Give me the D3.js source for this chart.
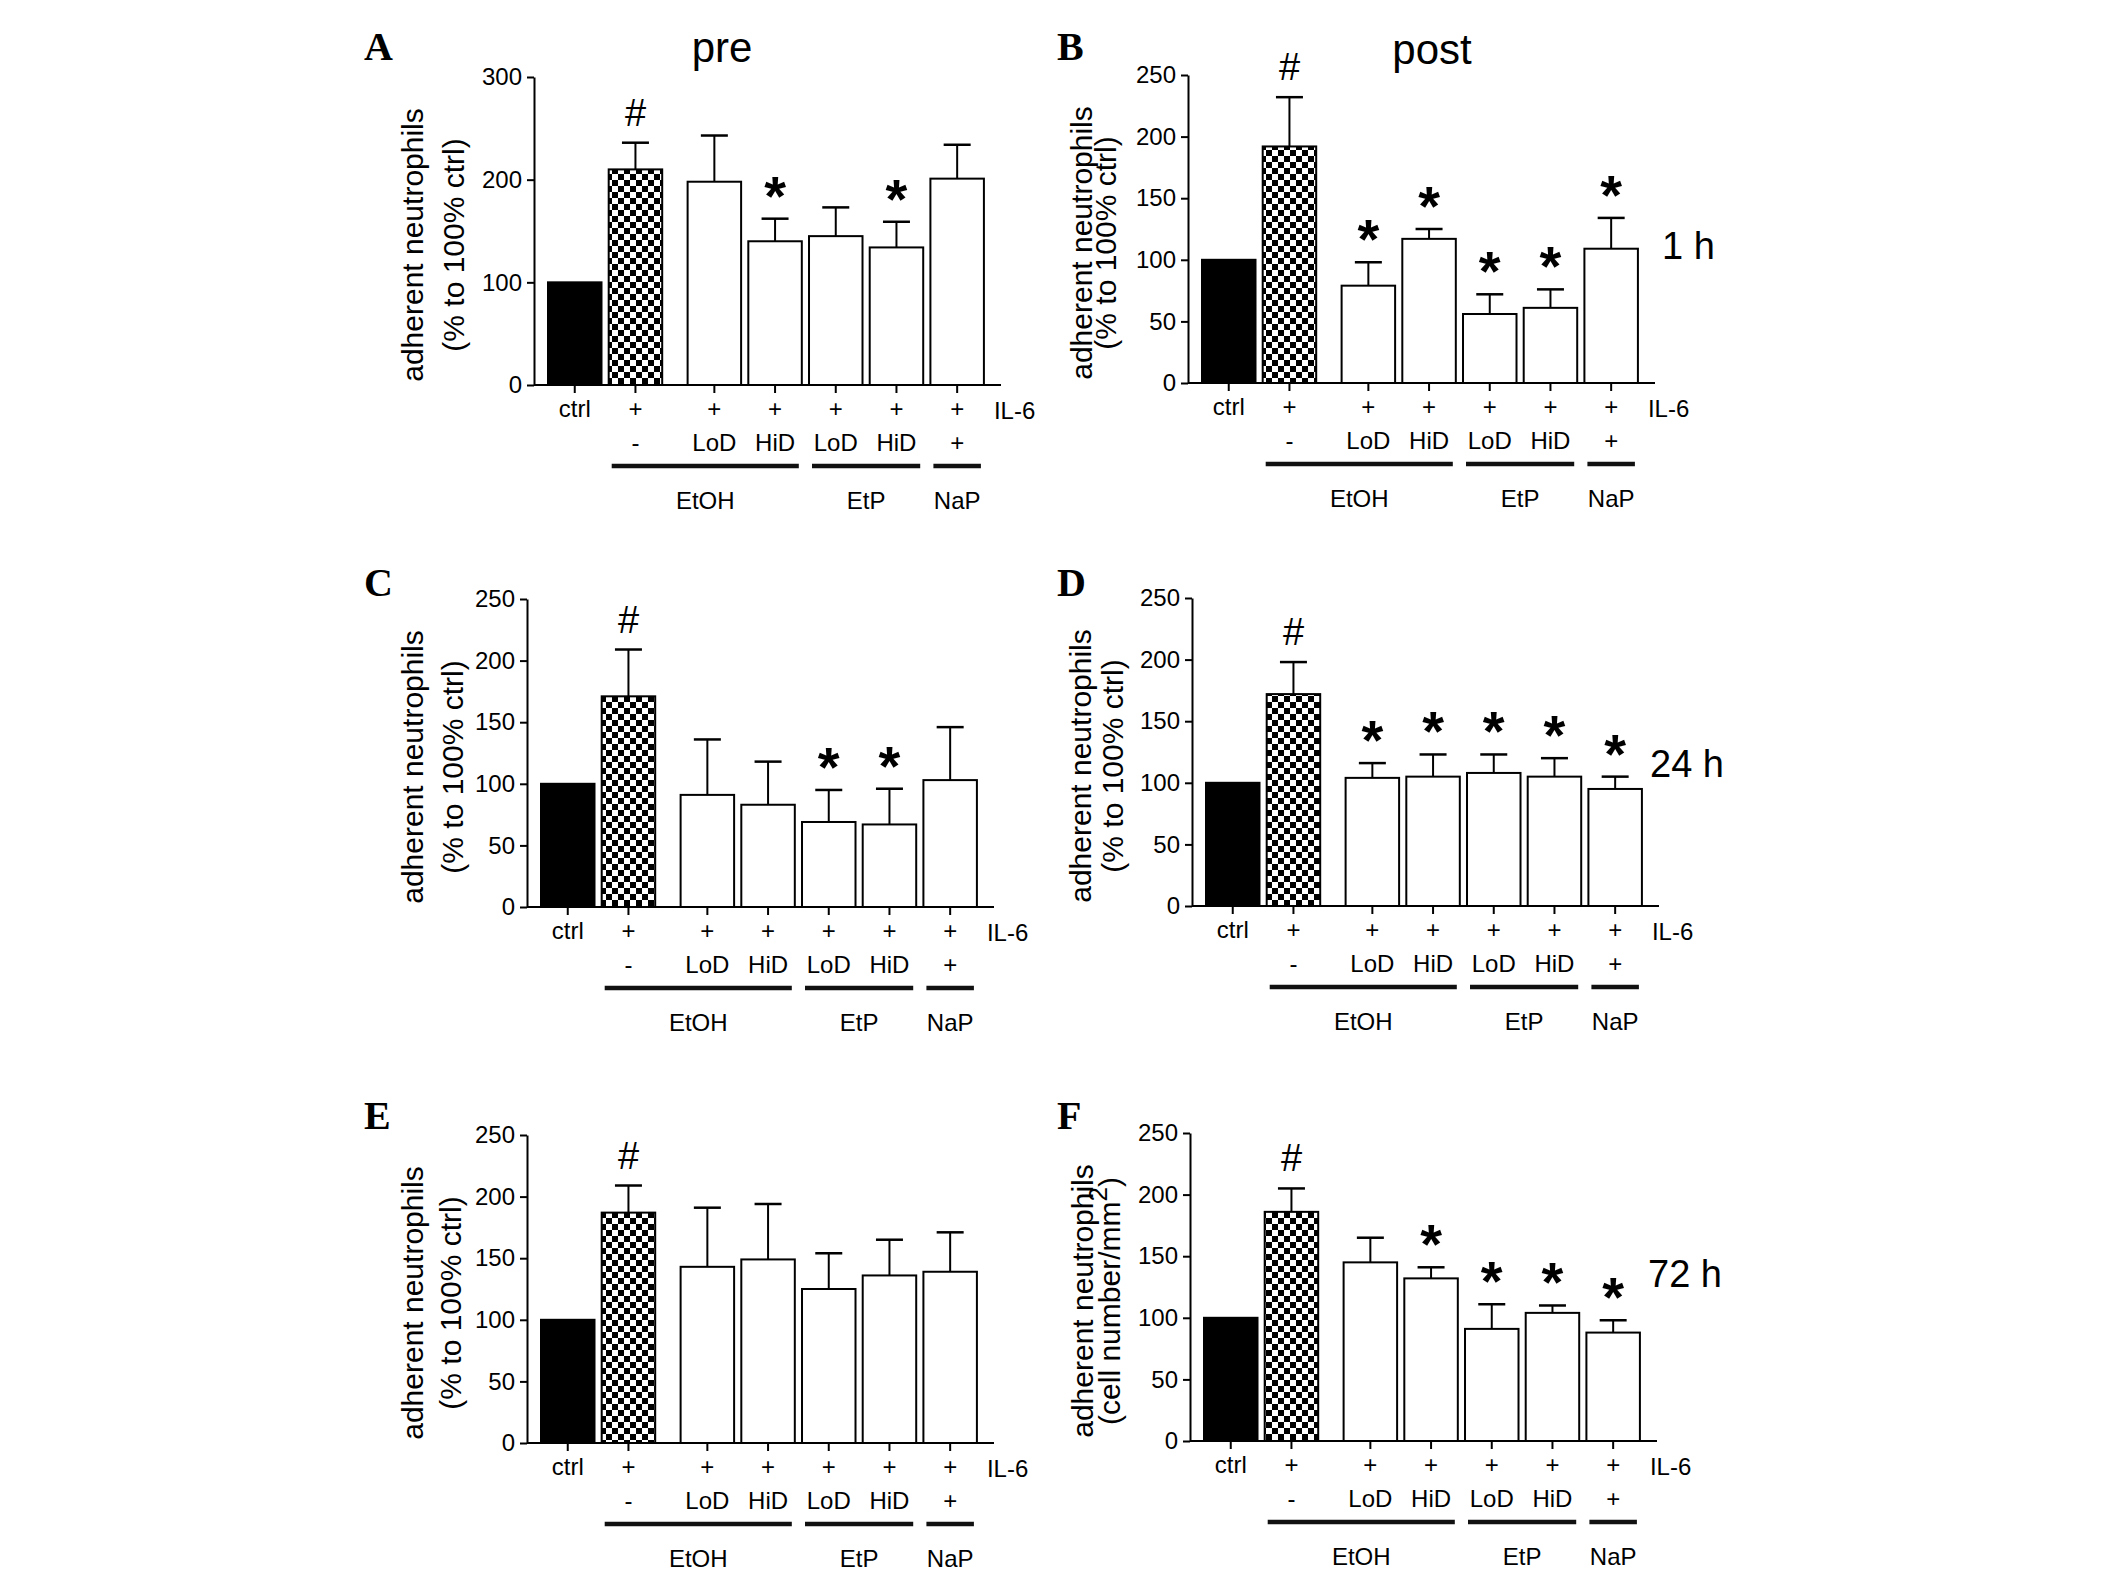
<!DOCTYPE html>
<html>
<head>
<meta charset="utf-8">
<script src="https://cdn.jsdelivr.net/npm/d3@7"></script>
<style>
  body { margin: 0; background: #fff; }
  text { fill: #000; }
</style>
</head>
<body>
<div id="graf"></div>
<script>
////DATA: CATEGORIES (SAME SEVEN BARS IN EVERY PANEL)
il6Row  = ['ctrl', '+', '+', '+', '+', '+', '+']
doseRow = ['', '-', 'LoD', 'HiD', 'LoD', 'HiD', '+']
groups  = [
  { name: 'EtOH', first: 1, last: 3 },
  { name: 'EtP',  first: 4, last: 5 },
  { name: 'NaP',  first: 6, last: 6 }
]

////DATA: MEANS, SEM AND SIGNIFICANCE MARKS PER PANEL
meanA = [100, 210, 198, 140, 145, 134, 201]
semA  = [0, 26, 45, 22, 28, 25, 33]
sigA  = ['', '#', '', '*', '', '*', '']

meanB = [100, 192, 79, 117, 56, 61, 109]
semB  = [0, 40, 19, 8, 16, 15, 25]
sigB  = ['', '#', '*', '*', '*', '*', '*']

meanC = [100, 171, 91, 83, 69, 67, 103]
semC  = [0, 38, 45, 35, 26, 29, 43]
sigC  = ['', '#', '', '', '*', '*', '']

meanD = [100, 172, 104, 105, 108, 105, 95]
semD  = [0, 26, 12, 18, 15, 15, 10]
sigD  = ['', '#', '*', '*', '*', '*', '*']

meanE = [100, 187, 143, 149, 125, 136, 139]
semE  = [0, 22, 48, 45, 29, 29, 32]
sigE  = ['', '#', '', '', '', '', '']

meanF = [100, 186, 145, 132, 91, 104, 88]
semF  = [0, 19, 20, 9, 20, 6, 10]
sigF  = ['', '#', '', '*', '*', '*', '*']

ticks300 = [0, 100, 200, 300]
ticks250 = [0, 50, 100, 150, 200, 250]

labelPct  = ['adherent neutrophils', '(% to 100% ctrl)']
labelCell = ['adherent neutrophils', '(cell number/mm', '2', ')']

panels = [
  { id: 'A', title: 'pre',  time: '',     mean: meanA, sem: semA, sig: sigA, yMax: 300, ticks: ticks300, label: labelPct },
  { id: 'B', title: 'post', time: '1 h',  mean: meanB, sem: semB, sig: sigB, yMax: 250, ticks: ticks250, label: labelPct },
  { id: 'C', title: '',     time: '',     mean: meanC, sem: semC, sig: sigC, yMax: 250, ticks: ticks250, label: labelPct },
  { id: 'D', title: '',     time: '24 h', mean: meanD, sem: semD, sig: sigD, yMax: 250, ticks: ticks250, label: labelPct },
  { id: 'E', title: '',     time: '',     mean: meanE, sem: semE, sig: sigE, yMax: 250, ticks: ticks250, label: labelPct },
  { id: 'F', title: '',     time: '72 h', mean: meanF, sem: semF, sig: sigF, yMax: 250, ticks: ticks250, label: labelCell }
]

////LAYOUT (PIXELS) PER PANEL
layout = {
  A: { x: 534,  y0: 385,  letterX: 364,  letterY: 60,   labelX: [412, 453],   titleX: 722,  titleY: 62 },
  B: { x: 1188, y0: 383,  letterX: 1057, letterY: 60,   labelX: [1081, 1105], titleX: 1432, titleY: 64, timeX: 1662, timeY: 259 },
  C: { x: 527,  y0: 907,  letterX: 364,  letterY: 596,  labelX: [412, 452] },
  D: { x: 1192, y0: 906,  letterX: 1057, letterY: 596,  labelX: [1080, 1112], timeX: 1650, timeY: 777 },
  E: { x: 527,  y0: 1443, letterX: 364,  letterY: 1129, labelX: [412, 450] },
  F: { x: 1190, y0: 1441, letterX: 1057, letterY: 1129, labelX: [1082, 1109], timeX: 1648, timeY: 1287 }
}
alto = 308      // plot height
paso = 60.7     // bar pitch
bw = 53.5       // bar width
gap = 0.3       // extra space after the IL-6 bar
ejeLargo = 467  // x axis length
sans = "'Liberation Sans', Arial, sans-serif"
serif = "'Liberation Serif', 'Times New Roman', serif"

slot = i => i + (i >= 2 ? gap : 0)

////SVG
svg = d3.select('#graf').append('svg')
  .attr('width', 2126)
  .attr('height', 1578)
  .style('display', 'block')
  .style('background', '#fff')
  .style('font-family', sans)

defs = svg.append('defs')
sq = 6
pat = defs.append('pattern')
  .attr('id', 'checker')
  .attr('patternUnits', 'userSpaceOnUse')
  .attr('width', sq * 2)
  .attr('height', sq * 2)
pat.append('rect').attr('width', sq * 2).attr('height', sq * 2).attr('fill', '#fff')
pat.append('rect').attr('width', sq).attr('height', sq).attr('fill', '#000')
pat.append('rect').attr('x', sq).attr('y', sq).attr('width', sq).attr('height', sq).attr('fill', '#000')

function drawPanel(p) {
  L = layout[p.id]
  g = svg.append('g')

  x = d3.scaleLinear()
    .domain([0, 1])
    .range([L.x + 14 + bw / 2, L.x + 14 + bw / 2 + paso])
  y = d3.scaleLinear()
    .domain([0, p.yMax])
    .range([L.y0, L.y0 - alto])

  // y axis
  yAxis = g.append('g')
    .attr('transform', `translate(${L.x},0)`)
    .call(d3.axisLeft(y).tickValues(p.ticks).tickSize(7).tickSizeOuter(0).tickPadding(5))
  yAxis.select('.domain').attr('stroke-width', 2)
  yAxis.selectAll('.tick line').attr('stroke-width', 2)
  yAxis.selectAll('.tick text')
    .attr('font-size', 24)
    .style('font-family', sans)

  // x axis line + ticks
  g.append('line')
    .attr('x1', L.x).attr('x2', L.x + ejeLargo)
    .attr('y1', L.y0).attr('y2', L.y0)
    .attr('stroke', '#000').attr('stroke-width', 2)
  g.selectAll('.xt').data(p.mean).join('line')
    .attr('x1', (d, i) => x(slot(i))).attr('x2', (d, i) => x(slot(i)))
    .attr('y1', L.y0).attr('y2', L.y0 + 8)
    .attr('stroke', '#000').attr('stroke-width', 2)

  // bars
  g.selectAll('.bar').data(p.mean).join('rect')
    .attr('x', (d, i) => x(slot(i)) - bw / 2)
    .attr('y', d => y(d))
    .attr('width', bw)
    .attr('height', d => L.y0 - y(d))
    .attr('fill', (d, i) => i == 0 ? '#000' : i == 1 ? 'url(#checker)' : '#fff')
    .attr('stroke', '#000')
    .attr('stroke-width', 2)

  // error bars
  err = p.mean.map((d, i) => ({ i: i, m: d, top: d + p.sem[i] })).filter(d => d.top > d.m)
  g.selectAll('.stem').data(err).join('line')
    .attr('x1', d => x(slot(d.i))).attr('x2', d => x(slot(d.i)))
    .attr('y1', d => y(d.m)).attr('y2', d => y(d.top))
    .attr('stroke', '#000').attr('stroke-width', 2)
  g.selectAll('.cap').data(err).join('line')
    .attr('x1', d => x(slot(d.i)) - 13.5).attr('x2', d => x(slot(d.i)) + 13.5)
    .attr('y1', d => y(d.top)).attr('y2', d => y(d.top))
    .attr('stroke', '#000').attr('stroke-width', 2.5)

  // significance marks
  marks = p.sig.map((s, i) => ({ s: s, i: i, top: p.mean[i] + p.sem[i] })).filter(d => d.s)
  g.selectAll('.sig').data(marks).join('text')
    .attr('x', d => x(slot(d.i)))
    .attr('y', d => d.s == '#' ? y(d.top) - 17 : y(d.top) - 4)
    .attr('text-anchor', 'middle')
    .attr('font-size', d => d.s == '#' ? 38 : 56)
    .attr('font-weight', d => d.s == '#' ? 'normal' : 'bold')
    .text(d => d.s)

  // category rows
  g.selectAll('.il6').data(il6Row).join('text')
    .attr('x', (d, i) => x(slot(i)))
    .attr('y', L.y0 + 23)
    .attr('text-anchor', 'middle')
    .attr('dominant-baseline', 'central')
    .attr('font-size', 24)
    .text(d => d)
  g.append('text')
    .attr('x', x(slot(6)) + bw / 2 + 10)
    .attr('y', L.y0 + 25)
    .attr('dominant-baseline', 'central')
    .attr('font-size', 24)
    .text('IL-6')
  g.selectAll('.dose').data(doseRow).join('text')
    .attr('x', (d, i) => x(slot(i)))
    .attr('y', L.y0 + 57)
    .attr('text-anchor', 'middle')
    .attr('dominant-baseline', 'central')
    .attr('font-size', 24)
    .text(d => d)

  // group underlines + names
  g.selectAll('.grp').data(groups).join('line')
    .attr('x1', d => x(slot(d.first)) - bw / 2 + 3)
    .attr('x2', d => x(slot(d.last)) + bw / 2 - 3)
    .attr('y1', L.y0 + 81).attr('y2', L.y0 + 81)
    .attr('stroke', '#111').attr('stroke-width', 4.5)
  g.selectAll('.gname').data(groups).join('text')
    .attr('x', d => (x(slot(d.first)) + x(slot(d.last))) / 2)
    .attr('y', L.y0 + 115)
    .attr('text-anchor', 'middle')
    .attr('dominant-baseline', 'central')
    .attr('font-size', 24)
    .text(d => d.name)

  // y axis title (two lines)
  cy = L.y0 - 140
  g.append('text')
    .attr('transform', `translate(${L.labelX[0]},${cy}) rotate(-90)`)
    .attr('text-anchor', 'middle')
    .attr('dominant-baseline', 'central')
    .attr('font-size', 30)
    .text(p.label[0])
  t2 = g.append('text')
    .attr('transform', `translate(${L.labelX[1]},${cy}) rotate(-90)`)
    .attr('text-anchor', 'middle')
    .attr('dominant-baseline', 'central')
    .attr('font-size', 30)
  if (p.label.length > 2) {
    t2.append('tspan').text(p.label[1])
    t2.append('tspan').attr('dy', -11).attr('font-size', 26).text(p.label[2])
    t2.append('tspan').attr('dy', 11).text(p.label[3])
  } else {
    t2.text(p.label[1])
  }

  // panel letter
  g.append('text')
    .attr('x', L.letterX)
    .attr('y', L.letterY)
    .style('font-family', serif)
    .attr('font-weight', 'bold')
    .attr('font-size', 40)
    .text(p.id)

  if (p.title) {
    g.append('text')
      .attr('x', L.titleX)
      .attr('y', L.titleY)
      .attr('text-anchor', 'middle')
      .attr('font-size', 42)
      .text(p.title)
  }
  if (p.time) {
    g.append('text')
      .attr('x', L.timeX)
      .attr('y', L.timeY)
      .attr('font-size', 38)
      .text(p.time)
  }
}

panels.forEach(p => drawPanel(p))
</script>
</body>
</html>
